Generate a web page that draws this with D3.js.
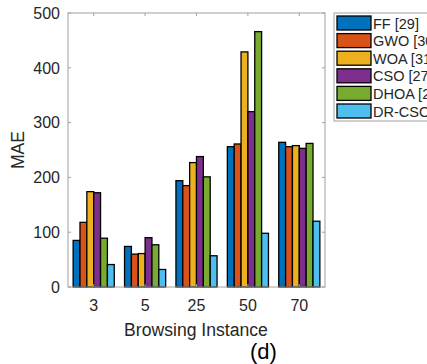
<!DOCTYPE html>
<html>
<head>
<meta charset="utf-8">
<script src="https://cdn.jsdelivr.net/npm/d3@7"></script>
<style>
  html, body { margin: 0; padding: 0; background: #fff; }
  svg { display: block; font-family: "Liberation Sans", Arial, Helvetica, sans-serif; }
</style>
</head>
<body>
<svg id="chart" width="427" height="364"></svg>
<script>
// Browsing instances along the x axis
const categories = ["3", "5", "25", "50", "70"];
// Method names and their bar colours
const seriesNames = ["FF [29]", "GWO [30]", "WOA [31]", "CSO [27]", "DHOA [28]", "DR-CSO"];
const seriesColors = ["#0072BD", "#D95319", "#EDB120", "#7E2F8E", "#77AC30", "#4DBEEE"];
// MAE per method, one value per browsing instance
const ffValues    = [85, 74, 194, 256, 264];
const gwoValues   = [118, 60, 185, 261, 256];
const woaValues   = [174, 61, 227, 429, 258];
const csoValues   = [172, 90, 238, 320, 253];
const dhoaValues  = [89, 77, 201, 466, 262];
const drcsoValues = [41, 32, 57, 98, 120];
const yTicks = [0, 100, 200, 300, 400, 500];

const series = [ffValues, gwoValues, woaValues, csoValues, dhoaValues, drcsoValues];

(function draw() {
  const svg = d3.select("#chart");
  const m = { left: 68, right: 325, top: 13, bottom: 287 };
  const textColor = "#262626";
  const axisColor = "#a0a0a0";

  const x = d3.scaleBand().domain(categories).range([m.left, m.right]).paddingInner(0).paddingOuter(0);
  const y = d3.scaleLinear().domain([0, 500]).range([m.bottom, m.top]);

  // each group fills 0.8 of its band, split into one slot per method
  const groupW = x.bandwidth() * 0.8;
  const xs = d3.scaleBand().domain(d3.range(series.length)).range([0, groupW]);

  const g = svg.append("g");

  // bars
  series.forEach((vals, si) => {
    g.selectAll(null).data(vals).enter().append("rect")
      .attr("x", (d, i) => x(categories[i]) + (x.bandwidth() - groupW) / 2 + xs(si))
      .attr("y", d => y(d))
      .attr("width", xs.bandwidth())
      .attr("height", d => y(0) - y(d))
      .attr("fill", seriesColors[si])
      .attr("stroke", "#000")
      .attr("stroke-width", 1.3);
  });

  // boxed axes with inward ticks
  const tickLen = 3;
  const axG = svg.append("g").attr("stroke", axisColor).attr("fill", "none").attr("stroke-width", 1);
  axG.append("rect").attr("x", m.left).attr("y", m.top)
    .attr("width", m.right - m.left).attr("height", m.bottom - m.top);
  categories.forEach(c => {
    const cx = x(c) + x.bandwidth() / 2;
    axG.append("line").attr("x1", cx).attr("x2", cx).attr("y1", m.bottom).attr("y2", m.bottom - tickLen);
    axG.append("line").attr("x1", cx).attr("x2", cx).attr("y1", m.top).attr("y2", m.top + tickLen);
  });
  yTicks.forEach(t => {
    axG.append("line").attr("x1", m.left).attr("x2", m.left + tickLen).attr("y1", y(t)).attr("y2", y(t));
    axG.append("line").attr("x1", m.right).attr("x2", m.right - tickLen).attr("y1", y(t)).attr("y2", y(t));
  });

  // tick labels
  svg.append("g").selectAll("text").data(categories).enter().append("text")
    .attr("x", d => x(d) + x.bandwidth() / 2)
    .attr("y", 311)
    .attr("text-anchor", "middle")
    .attr("font-size", 16)
    .attr("fill", textColor)
    .text(d => d);

  svg.append("g").selectAll("text").data(yTicks).enter().append("text")
    .attr("x", 60)
    .attr("y", d => y(d) + 5.7)
    .attr("text-anchor", "end")
    .attr("font-size", 16)
    .attr("fill", textColor)
    .text(d => d);

  // axis titles
  svg.append("text")
    .attr("x", 196)
    .attr("y", 335.5)
    .attr("text-anchor", "middle")
    .attr("font-size", 17.6)
    .attr("fill", textColor)
    .text("Browsing Instance");

  svg.append("text")
    .attr("transform", `translate(24, ${(m.top + m.bottom) / 2}) rotate(-90)`)
    .attr("text-anchor", "middle")
    .attr("font-size", 17.6)
    .attr("fill", textColor)
    .text("MAE");

  // panel label
  svg.append("text")
    .attr("x", 263.5)
    .attr("y", 359)
    .attr("text-anchor", "middle")
    .attr("font-size", 22)
    .attr("fill", "#000")
    .text("(d)");

  // legend
  const lg = svg.append("g").attr("transform", "translate(334, 13)");
  lg.append("rect").attr("x", 0).attr("y", 0).attr("width", 130).attr("height", 108)
    .attr("fill", "#fff").attr("stroke", axisColor).attr("stroke-width", 1);
  seriesNames.forEach((name, i) => {
    const ry = 3 + i * 17.6;
    lg.append("rect").attr("x", 3).attr("y", ry).attr("width", 34).attr("height", 14)
      .attr("fill", seriesColors[i]).attr("stroke", "#000").attr("stroke-width", 1.3);
    lg.append("text").attr("x", 39).attr("y", ry + 12.5)
      .attr("font-size", 14.5).attr("fill", textColor).text(name);
  });
})();
</script>
</body>
</html>
